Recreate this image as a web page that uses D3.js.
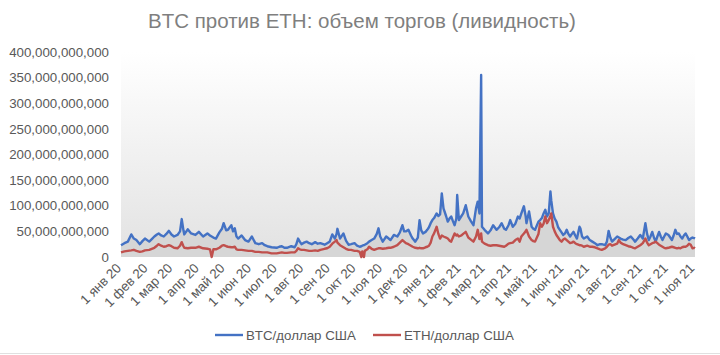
<!DOCTYPE html>
<html><head><meta charset="utf-8">
<script src="https://cdn.jsdelivr.net/npm/d3@7"></script>
<style>body{margin:0;background:#fff}svg{display:block}text{font-family:"Liberation Sans",Arial,sans-serif}</style>
</head><body><svg id="c" width="720" height="355"></svg>
<script>
const title = "BTC против ETH: объем торгов (ливидность)";
const seriesNames = ["BTC/доллар США", "ETH/доллар США"];
const monthNames = ["янв","фев","мар","апр","май","июн","июл","авг","сен","окт","ноя","дек"];
const yTicks = [0,50e9,100e9,150e9,200e9,250e9,300e9,350e9,400e9];
// dates (categories)
const dates = [
"2020-01-01","2020-01-05","2020-01-09","2020-01-13","2020-01-16","2020-01-19","2020-01-23","2020-01-26","2020-01-29",
"2020-02-03","2020-02-06","2020-02-09","2020-02-12","2020-02-14","2020-02-17","2020-02-20","2020-02-23","2020-02-26","2020-02-29",
"2020-03-03","2020-03-07","2020-03-10","2020-03-12","2020-03-14","2020-03-15","2020-03-19","2020-03-23","2020-03-28",
"2020-04-01","2020-04-06","2020-04-11","2020-04-14","2020-04-16","2020-04-18","2020-04-21","2020-04-25","2020-04-28","2020-04-30",
"2020-05-03","2020-05-05","2020-05-09","2020-05-11","2020-05-13","2020-05-15","2020-05-17","2020-05-21","2020-05-25","2020-05-29",
"2020-06-02","2020-06-06","2020-06-10","2020-06-14","2020-06-17","2020-06-20","2020-06-25",
"2020-07-01","2020-07-04","2020-07-07","2020-07-10","2020-07-13","2020-07-18","2020-07-22","2020-07-24","2020-07-26","2020-07-28","2020-07-30",
"2020-08-02","2020-08-05","2020-08-08","2020-08-11","2020-08-15","2020-08-18","2020-08-21","2020-08-26","2020-08-29",
"2020-09-01","2020-09-04","2020-09-07","2020-09-09","2020-09-10","2020-09-13","2020-09-17","2020-09-20","2020-09-23","2020-09-26","2020-09-30",
"2020-10-03","2020-10-06","2020-10-08","2020-10-09","2020-10-11","2020-10-12","2020-10-15","2020-10-17","2020-10-20","2020-10-23","2020-10-26","2020-10-28","2020-10-30",
"2020-11-02","2020-11-06","2020-11-09","2020-11-11","2020-11-15","2020-11-19","2020-11-22","2020-11-25","2020-11-27","2020-11-29",
"2020-12-02","2020-12-05","2020-12-07","2020-12-10","2020-12-13","2020-12-15","2020-12-17","2020-12-19","2020-12-22","2020-12-24","2020-12-26","2020-12-28","2020-12-30",
"2021-01-01","2021-01-04","2021-01-06","2021-01-08","2021-01-10","2021-01-12","2021-01-15","2021-01-17","2021-01-19","2021-01-21","2021-01-23","2021-01-25","2021-01-27","2021-01-28","2021-01-30",
"2021-02-02","2021-02-04","2021-02-07","2021-02-10","2021-02-13","2021-02-16","2021-02-19","2021-02-21","2021-02-23","2021-02-25","2021-02-26",
"2021-03-01","2021-03-05","2021-03-08","2021-03-11","2021-03-15","2021-03-18","2021-03-21","2021-03-24","2021-03-26","2021-03-29","2021-03-31",
"2021-04-03","2021-04-06","2021-04-09","2021-04-11","2021-04-13","2021-04-16","2021-04-18","2021-04-19","2021-04-22","2021-04-25","2021-04-27","2021-04-29",
"2021-05-03","2021-05-05","2021-05-07","2021-05-09","2021-05-11","2021-05-13","2021-05-15","2021-05-17","2021-05-18","2021-05-20","2021-05-22","2021-05-24","2021-05-26","2021-05-28","2021-05-30",
"2021-06-01","2021-06-03","2021-06-05","2021-06-07","2021-06-09","2021-06-11","2021-06-13","2021-06-15","2021-06-17","2021-06-20","2021-06-21","2021-06-23","2021-06-25","2021-06-29",
"2021-07-02","2021-07-05","2021-07-08","2021-07-11","2021-07-14","2021-07-16","2021-07-20","2021-07-22","2021-07-24","2021-07-26","2021-07-28","2021-07-31",
"2021-08-03","2021-08-05","2021-08-07","2021-08-10","2021-08-13","2021-08-16","2021-08-19","2021-08-22","2021-08-24","2021-08-27","2021-08-30",
"2021-09-02","2021-09-05","2021-09-07","2021-09-09","2021-09-11","2021-09-13","2021-09-15","2021-09-17","2021-09-19","2021-09-21","2021-09-23","2021-09-25","2021-09-27","2021-09-29",
"2021-10-02","2021-10-04","2021-10-06","2021-10-08","2021-10-10","2021-10-12","2021-10-14","2021-10-16","2021-10-18","2021-10-20","2021-10-22","2021-10-24","2021-10-26","2021-10-28","2021-10-30",
"2021-11-01","2021-11-02"];
// BTC volume, billions USD
const btc = [
23,27,30,44,36,33,25,31,36,
30,35,40,44,46,42,40,45,51,44,
40,43,50,74,52,44,54,46,43,
49,40,46,42,40,38,36,48,55,66,
52,53,62,50,56,40,36,42,33,30,
40,27,25,27,23,21,19,
18,20,21,18,18,21,19,25,36,30,25,
28,30,27,25,29,26,27,24,27,
30,44,36,45,55,36,46,32,24,25,27,
22,20,21,22,23,24,27,30,33,36,45,56,40,
30,40,36,33,43,40,48,62,50,50,
53,42,36,30,38,72,52,46,49,53,58,66,72,
76,85,80,83,124,95,80,69,75,79,70,62,75,121,72,
80,85,101,79,70,62,95,108,85,355,59,
53,46,52,62,53,58,66,55,53,62,72,
59,65,79,75,85,99,80,66,89,59,55,53,
69,72,76,85,92,79,85,128,110,85,75,69,58,53,48,
43,46,53,45,40,45,49,42,36,59,56,40,36,40,
33,30,27,23,25,25,23,30,51,38,30,35,
40,38,36,34,33,37,40,34,30,36,43,
36,66,45,33,40,49,38,30,40,49,40,33,40,46,
43,38,33,42,53,45,46,40,36,42,46,40,33,36,38,
37,36];
// ETH volume, billions USD
const eth = [
9,11,12,13,14,12,10,11,13,
14,16,18,22,25,22,20,21,23,21,
18,17,22,29,21,18,17,18,18,
20,17,16,15,0,15,15,18,22,23,
21,20,19,19,20,15,14,14,13,12,
12,10,10,9,9,9,7,
7,8,9,8,8,9,9,12,17,15,14,
14,13,12,12,13,12,14,16,17,
20,26,30,33,28,23,19,16,14,14,12,
12,10,0,11,0,12,15,20,16,14,16,17,17,
16,17,18,18,20,23,28,33,30,27,
25,22,20,18,17,18,17,17,19,20,22,28,40,
46,59,45,36,42,40,38,36,32,30,38,46,42,44,40,
42,45,49,38,34,30,40,53,35,46,30,
26,23,22,23,23,22,21,20,22,26,27,
28,33,36,30,40,46,50,53,40,33,31,30,
45,66,59,65,79,66,72,80,85,59,50,43,38,33,30,
34,36,33,30,27,28,30,27,25,23,23,22,20,22,
20,20,19,17,15,14,17,20,24,25,22,24,
26,33,28,25,23,21,20,18,17,20,23,
27,36,28,23,25,27,28,30,27,24,22,20,18,17,
18,19,20,19,18,17,18,17,19,20,20,22,26,24,17,
18,17];

const parse = d3.timeParse("%Y-%m-%d");
const data = dates.map((d,i)=>({date:parse(d), btc:btc[i]*1e9, eth:eth[i]*1e9}));

const svg = d3.select("#c");
const L=121, R=695, T=52, B=257;
const x = d3.scaleTime().domain([parse("2020-01-01"), parse("2021-11-02")]).range([L,R]);
const y = d3.scaleLinear().domain([0,400e9]).range([B,T]);

const defs = svg.append("defs");
const g = defs.append("linearGradient").attr("id","bg").attr("x1",0).attr("y1",0).attr("x2",0).attr("y2",1);
g.append("stop").attr("offset","0%").attr("stop-color","#ffffff");
g.append("stop").attr("offset","100%").attr("stop-color","#e2e2e2");

svg.append("rect").attr("x",L).attr("y",T).attr("width",R-L).attr("height",B-T).attr("fill","url(#bg)");

// area under BTC
svg.append("path").datum(data)
  .attr("fill","#d6d6d6")
  .attr("d", d3.area().x(d=>x(d.date)).y0(y(0)).y1(d=>y(d.btc)));

const line = key => d3.line().x(d=>x(d.date)).y(d=>y(d[key]));
svg.append("path").datum(data).attr("fill","none").attr("stroke","#4472c4").attr("stroke-width",2.4)
  .attr("stroke-linejoin","round").attr("d", line("btc"));
svg.append("path").datum(data).attr("fill","none").attr("stroke","#c0504d").attr("stroke-width",2.4)
  .attr("stroke-linejoin","round").attr("d", line("eth"));

// Y axis labels
const fmt = d3.format(",");
svg.append("g").selectAll("text").data(yTicks).join("text")
  .attr("x",109).attr("y",d=>y(d)).attr("dy","0.35em").attr("text-anchor","end")
  .attr("font-size","13.3px").attr("fill","#595959").text(d=>fmt(d));

// X axis labels
const months = d3.timeMonth.range(parse("2020-01-01"), parse("2021-11-02"));
svg.append("g").selectAll("text").data(months).join("text")
  .attr("transform",d=>`translate(${x(d)+1},${269}) rotate(-45)`)
  .attr("text-anchor","end").attr("font-size","13.3px").attr("fill","#595959")
  .text(d=>`1 ${monthNames[d.getMonth()]} ${String(d.getFullYear()).slice(2)}`);

// title
svg.append("text").attr("x",362).attr("y",28).attr("text-anchor","middle")
  .attr("font-size","20.5px").attr("fill","#7f7f7f").text(title);

// legend
const leg = [{n:seriesNames[0],c:"#4472c4",x:215},{n:seriesNames[1],c:"#c0504d",x:373}];
const lg = svg.append("g").selectAll("g").data(leg).join("g");
lg.append("line").attr("x1",d=>d.x).attr("x2",d=>d.x+28).attr("y1",335).attr("y2",335)
  .attr("stroke",d=>d.c).attr("stroke-width",2.4);
lg.append("text").attr("x",d=>d.x+31).attr("y",335).attr("dy","0.35em")
  .attr("font-size","13.3px").attr("fill","#595959").text(d=>d.n);

svg.append("line").attr("x1",0).attr("x2",720).attr("y1",353.5).attr("y2",353.5).attr("stroke","#e0e0e0");
</script></body></html>
